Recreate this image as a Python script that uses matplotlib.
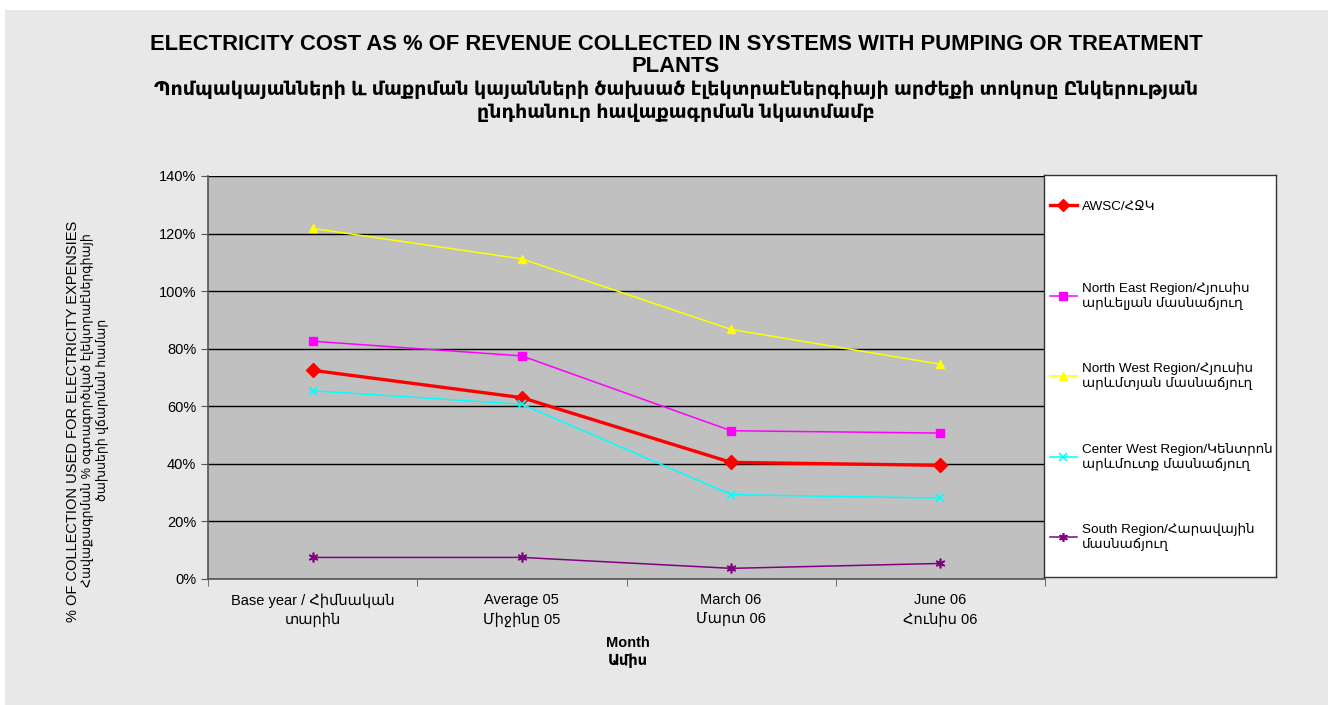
import matplotlib
matplotlib.use("Agg")
import matplotlib.pyplot as plt
from matplotlib.patches import Rectangle
import numpy as np

plt.rcParams['font.family'] = ['Liberation Sans', 'DejaVu Sans']

categories = ["Base year / Հիմնական\nտարին", "Average 05\nՄիջինը 05",
              "March 06\nՄարտ 06", "June 06\nՀունիս 06"]
awsc = [72.5, 63.0, 40.5, 39.5]
north_east = [82.6, 77.5, 51.5, 50.7]
north_west = [121.8, 111.2, 86.7, 74.6]
center_west = [65.4, 60.7, 29.3, 28.1]
south = [7.5, 7.5, 3.7, 5.4]

labels = ["AWSC/ՀՋԿ",
          "North East Region/Հյուսիս\nարևելյան մասնաճյուղ",
          "North West Region/Հյուսիս\nարևմտյան մասնաճյուղ",
          "Center West Region/Կենտրոն\nարևմուտք մասնաճյուղ",
          "South Region/Հարավային\nմասնաճյուղ"]

W, H = 1335, 705
fig = plt.figure(figsize=(W / 100, H / 100), dpi=100, facecolor='white')
fig.patches.append(Rectangle((5 / W, 0), (1328 - 5) / W, 1 - 10 / H,
                             transform=fig.transFigure, facecolor='#e8e8e8',
                             edgecolor='none', zorder=-10))

ax = fig.add_axes([208 / W, 1 - 579 / H, (1045 - 208) / W, (579 - 176) / H])
ax.set_facecolor('#c0c0c0')
x = np.arange(len(categories))

styles = [
    (awsc, dict(color='#ff0000', lw=2.4, marker='D', ms=7)),
    (north_east, dict(color='#ff00ff', lw=1.1, marker='s', ms=6)),
    (north_west, dict(color='#ffff00', lw=1.1, marker='^', ms=6)),
    (center_west, dict(color='#00ffff', lw=1.1, marker='x', ms=6, mew=1.2)),
    (south, dict(color='#800080', lw=1.1, marker=(6, 2, 0), ms=7, mew=1.2)),
]
lines = []
for vals, st in styles:
    ln, = ax.plot(x, vals, **st)
    lines.append(ln)

ax.set_xlim(-0.5, len(categories) - 0.5)
ax.set_ylim(0, 140)
ax.set_yticks(np.arange(0, 141, 20))
ax.set_yticklabels([f"{v}%" for v in range(0, 141, 20)], fontsize=10.5)
ax.yaxis.grid(True, color='#000000', lw=1)
ax.set_axisbelow(True)
ax.set_xticks(x)
ax.set_xticklabels(categories, fontsize=10.5, linespacing=1.45)
ax.set_xticks(np.arange(-0.5, len(categories)), minor=True)
ax.tick_params(axis='x', which='major', length=0, pad=10)
ax.tick_params(axis='x', which='minor', length=5, direction='out', color='#555555')
ax.tick_params(axis='y', length=5, direction='out', color='#555555')
for s in ['top', 'right']:
    ax.spines[s].set_visible(False)
for s in ['left', 'bottom']:
    ax.spines[s].set_color('#555555')
    ax.spines[s].set_linewidth(1.2)

# legend box
leg_ax = fig.add_axes([1044 / W, 1 - 577 / H, (1276 - 1044) / W, (577 - 175) / H])
leg_ax.set_xticks([]); leg_ax.set_yticks([])
leg_ax.set_facecolor('white')
for s in leg_ax.spines.values():
    s.set_color('#333333'); s.set_linewidth(1)
entry_tops = [200, 282, 362, 443, 523]
for ln, lab, yt in zip(lines, labels, entry_tops):
    fig.legend([ln], [lab], loc='upper left',
               bbox_to_anchor=(1050 / W, 1 - yt / H), frameon=False,
               fontsize=9.7, handlelength=2.0, handletextpad=0.4,
               borderpad=0, borderaxespad=0, markerscale=0.9)

# titles
fig.text(676 / W, 1 - 44 / H,
         "ELECTRICITY COST AS % OF REVENUE COLLECTED IN SYSTEMS WITH PUMPING OR TREATMENT",
         ha='center', va='center', fontsize=15.8, fontweight='bold')
fig.text(676 / W, 1 - 67 / H, "PLANTS", ha='center', va='center',
         fontsize=15.8, fontweight='bold')
fig.text(676 / W, 1 - 90 / H,
         "Պոմպակայանների և մաքրման կայանների ծախսած էլեկտրաէներգիայի արժեքի տոկոսը Ընկերության",
         ha='center', va='center', fontsize=13.7, fontweight='bold')
fig.text(676 / W, 1 - 113 / H, "ընդհանուր հավաքագրման նկատմամբ",
         ha='center', va='center', fontsize=13.7, fontweight='bold')

# axis labels
fig.text(73 / W, 1 - 421 / H, "% OF COLLECTION USED FOR ELECTRICITY EXPENSIES",
         rotation=90, ha='center', va='center', fontsize=10.5)
fig.text(95 / W, 1 - 410 / H,
         "Հավաքագրման % օգտագործված էլեկտրաէներգիայի\nծախսերի վճարման համար",
         rotation=90, ha='center', va='center', fontsize=9, linespacing=1.2)
fig.text(628 / W, 1 - 652 / H, "Month\nԱմիս", ha='center', va='center',
         fontsize=10.5, fontweight='bold', linespacing=1.3)

fig.savefig("out.png", dpi=100, facecolor=fig.get_facecolor())
